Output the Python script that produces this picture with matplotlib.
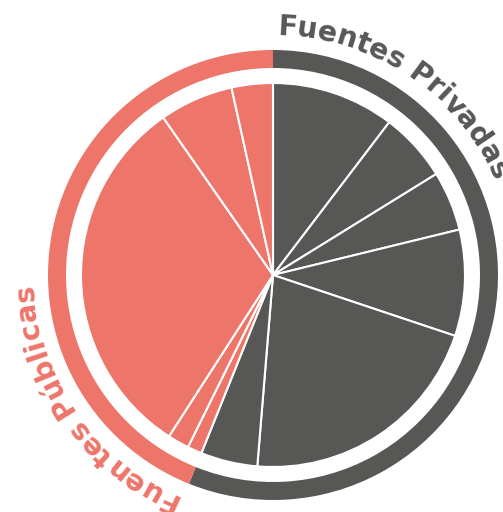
import numpy as np
import matplotlib
matplotlib.use("Agg")
import matplotlib.pyplot as plt
from matplotlib.font_manager import FontProperties
from matplotlib.textpath import TextToPath

# ----------------------------
# Data (shares of total funding, %)
# ----------------------------
privadas = [10.35, 5.83, 5.01, 8.94, 21.17, 4.78]
publicas = [1.22, 1.81, 31.19, 6.22, 3.47]
groups = ["Fuentes Privadas", "Fuentes Públicas"]

DARK = "#575756"
SALMON = "#ee756a"

CX, CY = 273, 512 - 275
R_PIE, R_OUT, RING_W = 192, 225, 18
R_TEXT = 240

fig = plt.figure(figsize=(5.03, 5.12), dpi=100)
ax = fig.add_axes([0, 0, 1, 1])

inner = privadas + publicas
inner_colors = [DARK] * len(privadas) + [SALMON] * len(publicas)
ax.pie(inner, colors=inner_colors, startangle=90, counterclock=False,
       radius=R_PIE, center=(CX, CY),
       wedgeprops=dict(edgecolor="white", linewidth=1.5))

totals = [sum(privadas), sum(publicas)]
ax.pie(totals, colors=[DARK, SALMON], startangle=90, counterclock=False,
       radius=R_OUT, center=(CX, CY),
       wedgeprops=dict(width=RING_W, edgecolor="none"))

ax.set_xlim(0, 503)
ax.set_ylim(0, 512)
ax.set_aspect("equal")
ax.axis("off")

# ----------------------------
# Curved labels along the ring
# ----------------------------
prop = FontProperties(family="DejaVu Sans", weight="bold", size=20.5)
t2p = TextToPath()
px = 100 / 72


def width(s):
    if not s:
        return 0.0
    w, _, _ = t2p.get_text_width_height_descent(s, prop, ismath=False)
    return w * px


def curved_text(label, start_deg, color):
    for i, ch in enumerate(label):
        s = (width(label[:i]) + width(label[:i + 1])) / 2
        theta = np.radians(start_deg) + s / R_TEXT
        x = CX + R_TEXT * np.sin(theta)
        y = CY + R_TEXT * np.cos(theta)
        ax.text(x, y, ch, fontproperties=prop, color=color,
                rotation=-np.degrees(theta), rotation_mode="anchor",
                ha="center", va="baseline")


start_pub = sum(privadas) / 100 * 360
curved_text(groups[0], 1.0, DARK)
curved_text(groups[1], start_pub + 1.0, SALMON)

fig.savefig("out.png", dpi=100)
